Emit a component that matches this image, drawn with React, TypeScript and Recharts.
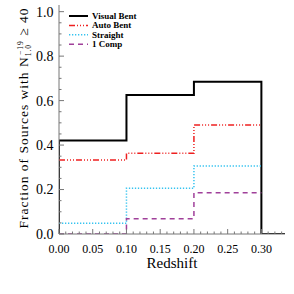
import React from 'react';
import { LineChart, Line, XAxis, YAxis } from 'recharts';

const binEdges = [0, 0.1, 0.2, 0.3];
const visualBent = [0.42, 0.625, 0.685];
const autoBent = [0.333, 0.363, 0.49];
const straight = [0.048, 0.206, 0.306];
const oneComp = [0, 0.069, 0.186];

const xMajorTicks = [0, 0.05, 0.1, 0.15, 0.2, 0.25, 0.3];
const yMajorTicks = [0, 0.2, 0.4, 0.6, 0.8, 1.0];
const xMinorTicks = Array.from({ length: 34 }, (_, i) => i / 100);
const yMinorTicks = Array.from({ length: 21 }, (_, i) => i / 20);

const X_MAX = 0.335;
const Y_MAX = 1.03;
const AXIS = '#777';
const FONT = '"Liberation Serif", "Times New Roman", serif';

// histogram steps: each bin value held until the next edge, last bin closed at 0.30
const toSteps = (vals: number[]) => [
  ...vals.map((v, i) => ({ x: binEdges[i], y: v })),
  { x: binEdges[vals.length], y: vals[vals.length - 1] },
];

const visualData = [
  { x: 0, y: 0 },
  ...toSteps(visualBent),
  { x: 0.3, y: 0 },
  { x: 0.4, y: 0 },
];

const series = [
  { name: 'Visual Bent', data: visualData, color: '#000000', width: 2, dash: undefined },
  { name: 'Auto Bent', data: toSteps(autoBent), color: '#ee2020', width: 1.5, dash: '6 2 1 2 1 2 1 2' },
  { name: 'Straight', data: toSteps(straight), color: '#35c3f0', width: 1.5, dash: '1.3 1.7' },
  { name: '1 Comp', data: toSteps(oneComp), color: '#a0409a', width: 1.5, dash: '5 4' },
];

const isXMajor = (v: number) => xMajorTicks.some((t) => Math.abs(t - v) < 1e-6);
const isYMajor = (v: number) => yMajorTicks.some((t) => Math.abs(t - v) < 1e-6);

const XTick = (props: any) => {
  const { x, y, payload, top } = props;
  const major = isXMajor(payload.value);
  const len = major ? 5 : 2.5;
  return (
    <g>
      <line x1={x} x2={x} y1={y} y2={top ? y + len : y - len} stroke={AXIS} />
      {!top && major && (
        <text x={x} y={y + 19} textAnchor="middle" fontSize={12} fontFamily={FONT} fill="#000">
          {payload.value.toFixed(2)}
        </text>
      )}
    </g>
  );
};

const YTick = (props: any) => {
  const { x, y, payload, right } = props;
  const major = isYMajor(payload.value);
  const len = major ? 5 : 2.5;
  return (
    <g>
      <line x1={x} x2={right ? x - len : x + len} y1={y} y2={y} stroke={AXIS} />
      {!right && major && (
        <text x={x - 5.5} y={y} dy="0.35em" textAnchor="end" fontSize={14} fontFamily={FONT} fill="#000">
          {payload.value.toFixed(1)}
        </text>
      )}
    </g>
  );
};

const YLabel = () => (
  <text
    transform="rotate(-90, 28, 118)"
    x={28}
    y={118}
    textAnchor="middle"
    fontSize={13.5}
    fontFamily={FONT}
    letterSpacing={1}
    fill="#000"
  >
    Fraction of Sources with N
    <tspan fontSize={7.5} dy={3}>1.0</tspan>
    <tspan fontSize={7.5} dx={-11} dy={-8.5}>−19</tspan>
    <tspan dy={5.5}> ≥ 40</tspan>
  </text>
);

// legend drawn in the top-left corner of the plot
const LegendBox = () => (
  <g transform="translate(69, 12)">
    {series.map((s, i) => (
      <g key={s.name}>
        <line
          x1={0}
          x2={19}
          y1={4 + i * 9.4}
          y2={4 + i * 9.4}
          stroke={s.color}
          strokeWidth={s.width}
          strokeDasharray={s.dash}
        />
        <text x={23} y={4 + i * 9.4} dy="0.33em" fontSize={9} fontWeight="bold" fontFamily={FONT} fill="#000">
          {s.name}
        </text>
      </g>
    ))}
  </g>
);

const XLabel = () => (
  <g>
    <text x={172} y={268} textAnchor="middle" fontSize={15} fontFamily={FONT} fill="#000">
      Redshift
    </text>
    <LegendBox />
  </g>
);

export default function App() {
  return (
    <div style={{ position: 'absolute', left: 0, top: 0, width: 294, height: 294, background: '#fff' }}>
      <LineChart width={294} height={294} margin={{ top: 5, right: 9, bottom: 0, left: 0 }}>
        <XAxis
          type="number"
          dataKey="x"
          domain={[0, X_MAX]}
          allowDataOverflow
          ticks={xMinorTicks}
          interval={0}
          height={60}
          tickSize={0}
          tickMargin={0}
          tickLine={false}
          axisLine={{ stroke: AXIS }}
          tick={<XTick />}
          label={{ content: () => <XLabel /> }}
        />
        <XAxis
          xAxisId="top"
          orientation="top"
          type="number"
          dataKey="x"
          domain={[0, X_MAX]}
          allowDataOverflow
          ticks={xMinorTicks}
          interval={0}
          height={0}
          tickSize={0}
          tickMargin={0}
          tickLine={false}
          axisLine={{ stroke: AXIS }}
          tick={<XTick top />}
        />
        <YAxis
          type="number"
          domain={[0, Y_MAX]}
          allowDataOverflow
          ticks={yMinorTicks}
          interval={0}
          width={59}
          tickSize={0}
          tickMargin={0}
          tickLine={false}
          axisLine={{ stroke: AXIS }}
          tick={<YTick />}
          label={{ content: () => <YLabel /> }}
        />
        <YAxis
          yAxisId="right"
          orientation="right"
          type="number"
          domain={[0, Y_MAX]}
          allowDataOverflow
          ticks={yMinorTicks}
          interval={0}
          width={0}
          tickSize={0}
          tickMargin={0}
          tickLine={false}
          axisLine={{ stroke: AXIS }}
          tick={<YTick right />}
        />
        {series.map((s) => (
          <Line
            key={s.name}
            data={s.data}
            dataKey="y"
            name={s.name}
            type="stepAfter"
            stroke={s.color}
            strokeWidth={s.width}
            strokeDasharray={s.dash}
            dot={false}
            activeDot={false}
            isAnimationActive={false}
          />
        ))}
      </LineChart>
    </div>
  );
}
